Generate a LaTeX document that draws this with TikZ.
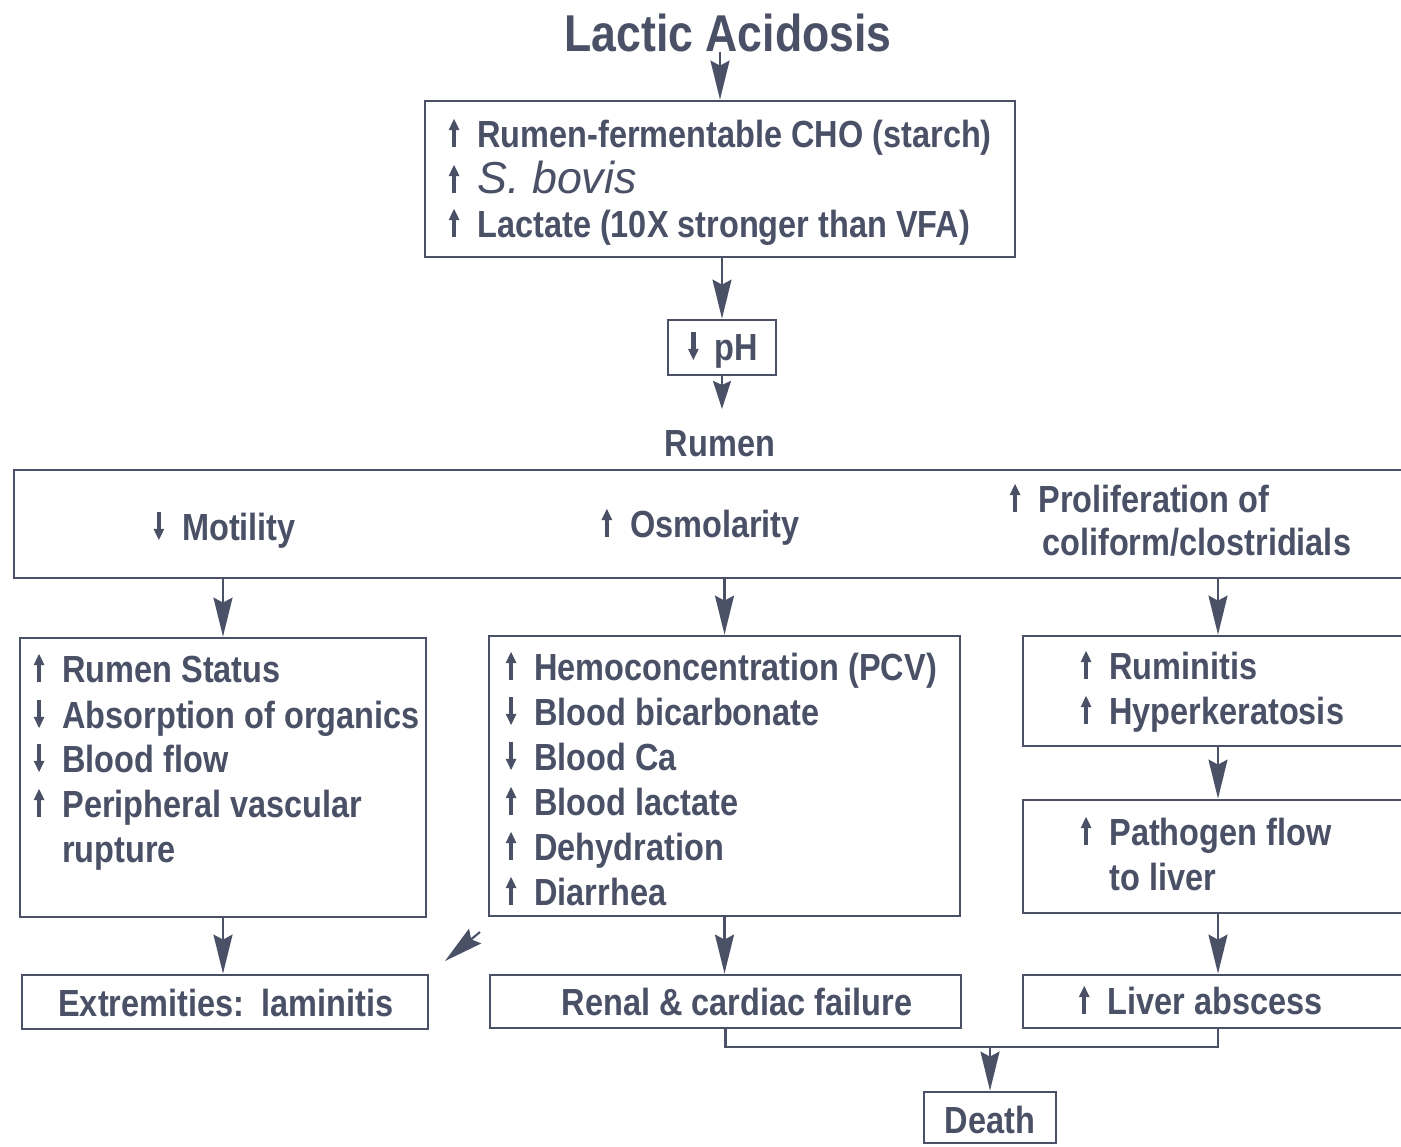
\documentclass[tikz,border=0pt]{standalone}
\usepackage{fontspec}
\setmainfont{Liberation Sans}[FakeStretch=0.86]
\newfontfamily\bovisfont{Liberation Sans}
\usetikzlibrary{arrows.meta,fit}
\definecolor{ink}{RGB}{74,80,102}
% small bold rise / fall markers, drawn as a stem with a pointed head
\newcommand\uparrowmark{\tikz[x=1pt,y=1pt,baseline=0pt]{%
  \fill[ink] (-1.25,0) rectangle (1.25,10.5);
  \fill[ink] (-3.1,9.6) -- (3.1,9.6) -- (0,16) -- cycle;}}
\newcommand\downarrowmark{\tikz[x=1pt,y=1pt,baseline=0pt]{%
  \fill[ink] (-1.25,5.5) rectangle (1.25,16);
  \fill[ink] (-3.1,6.4) -- (3.1,6.4) -- (0,0) -- cycle;}}
% marker set in a fixed-width slot so the words line up
\newcommand\incr{\makebox[0.9em][l]{\hspace{3pt}\uparrowmark}}
\newcommand\decr{\makebox[0.9em][l]{\hspace{3pt}\downarrowmark}}
\newcommand\nomark{\makebox[0.9em][l]{}}
\begin{document}
\begin{tikzpicture}[x={(0.02cm,0)},y={(0,-0.02cm)},
  box/.style={draw=ink,line width=1.6pt,inner sep=0pt},
  bodyfont/.style={font=\fontsize{21.5}{25}\selectfont\bfseries},
  txt/.style={bodyfont,text=ink,inner sep=0pt,anchor=base west},
  txtc/.style={bodyfont,text=ink,inner sep=0pt,anchor=base},
  joinline/.style={color=ink,line width=1.6pt},
  arr/.style={color=ink,line width=1.2pt,
    -{Stealth[length=0.78cm,width=0.38cm,inset=0.1cm,color=ink,fill=ink]}},
  shortarr/.style={color=ink,line width=1.2pt,
    -{Stealth[length=0.56cm,width=0.36cm,inset=0.08cm,color=ink,fill=ink]}}]
\useasboundingbox (0,0) rectangle (1401,1147);
\clip (0,0) rectangle (1401,1147);
\fill[white] (0,0) rectangle (1401,1147);

% ---- boxes ----
\node[box,fit={(425,101) (1015,257)}] (cho) {};
\node[box,fit={(668,320) (776,375)}] (ph) {};
\node[box,fit={(14,470) (1420,578)}] (rumenbox) {};
\node[box,fit={(20,638) (426,917)}] (wall) {};
\node[box,fit={(489,636) (960,916)}] (blood) {};
\node[box,fit={(1023,636) (1420,746)}] (ruminitis) {};
\node[box,fit={(1023,800) (1420,913)}] (pathogen) {};
\node[box,fit={(22,975) (428,1029)}] (extrem) {};
\node[box,fit={(490,975) (961,1028)}] (renal) {};
\node[box,fit={(1023,975) (1420,1028)}] (liver) {};
\node[box,fit={(924,1092) (1056,1143)}] (death) {};

% ---- texts ----
\node[txtc,font=\fontsize{29.5}{32}\selectfont\bfseries] (title) at (728,51) {Lactic Acidosis};

\node[txt] (cho1) at (443,147) {\incr Rumen-fermentable CHO (starch)};
\node[txt] (cho2) at (443,193) {\incr{\bovisfont\mdseries\itshape\fontsize{25.5}{28}\selectfont S. bovis}};
\node[txt] (cho3) at (443,237) {\incr Lactate (10X stronger than VFA)};

\node[txtc] (phtext) at (722,360) {\makebox[0.75em][l]{\hspace{1pt}\downarrowmark}pH};
\node[txtc,outer ysep=12pt] (rumen) at (720,456) {Rumen};

\node[txtc] (motility) at (222,540) {\decr Motility};
\node[txtc] (osmo) at (698,537) {\incr Osmolarity};
\node[txt] (prolif1) at (1004,512) {\incr Proliferation of};
\node[txt] (prolif2) at (1008,555) {\nomark coliform/clostridials};

\node[txt] (w1) at (28,682) {\incr Rumen Status};
\node[txt] (w2) at (28,728) {\decr Absorption of organics};
\node[txt] (w3) at (28,772) {\decr Blood flow};
\node[txt] (w4) at (28,817) {\incr Peripheral vascular};
\node[txt] (w5) at (28,862) {\nomark rupture};

\node[txt] (b1) at (500,680) {\incr Hemoconcentration (PCV)};
\node[txt] (b2) at (500,725) {\decr Blood bicarbonate};
\node[txt] (b3) at (500,770) {\decr Blood Ca};
\node[txt] (b4) at (500,815) {\incr Blood lactate};
\node[txt] (b5) at (500,860) {\incr Dehydration};
\node[txt] (b6) at (500,905) {\incr Diarrhea};

\node[txt] (r1) at (1075,679) {\incr Ruminitis};
\node[txt] (r2) at (1075,724) {\incr Hyperkeratosis};
\node[txt] (p1) at (1075,845) {\incr Pathogen flow};
\node[txt] (p2) at (1075,890) {\nomark to liver};

\node[txtc] (extremtext) at (226,1016) {Extremities:\hspace{0.15em} laminitis};
\node[txtc] (renaltext) at (737,1015) {Renal \& cardiac failure};
\node[txtc] (livertext) at (1198,1014) {\incr Liver abscess};
\node[txtc] (deathtext) at (990,1133) {Death};

% ---- connectors ----
\coordinate (rcol) at (1218,0);
\coordinate (meet) at (990,1047);
\coordinate (dstart) at (480,932);
\coordinate (dend) at (445,961);

\draw[arr] (cho.north |- title.south) -- (cho.north);
\draw[arr] (ph.north |- cho.south) -- (ph.north);
\draw[shortarr] (ph.south) -- (ph.south |- rumen.north);

\draw[arr] (wall.north |- rumenbox.south) -- (wall.north);
\draw[arr] (blood.north |- rumenbox.south) -- (blood.north);
\draw[arr] (rcol |- rumenbox.south) -- (rcol |- ruminitis.north);
\draw[arr] (rcol |- ruminitis.south) -- (rcol |- pathogen.north);
\draw[arr] (rcol |- pathogen.south) -- (rcol |- liver.north);

\draw[arr] (wall.south) -- (wall.south |- extrem.north);
\draw[arr] (blood.south) -- (blood.south |- renal.north);
\draw[arr] (dstart) -- (dend);

\draw[joinline] (renal.south) |- (meet) -| (rcol |- liver.south);
\draw[arr] (meet) -- (death.north);
\end{tikzpicture}
\end{document}
